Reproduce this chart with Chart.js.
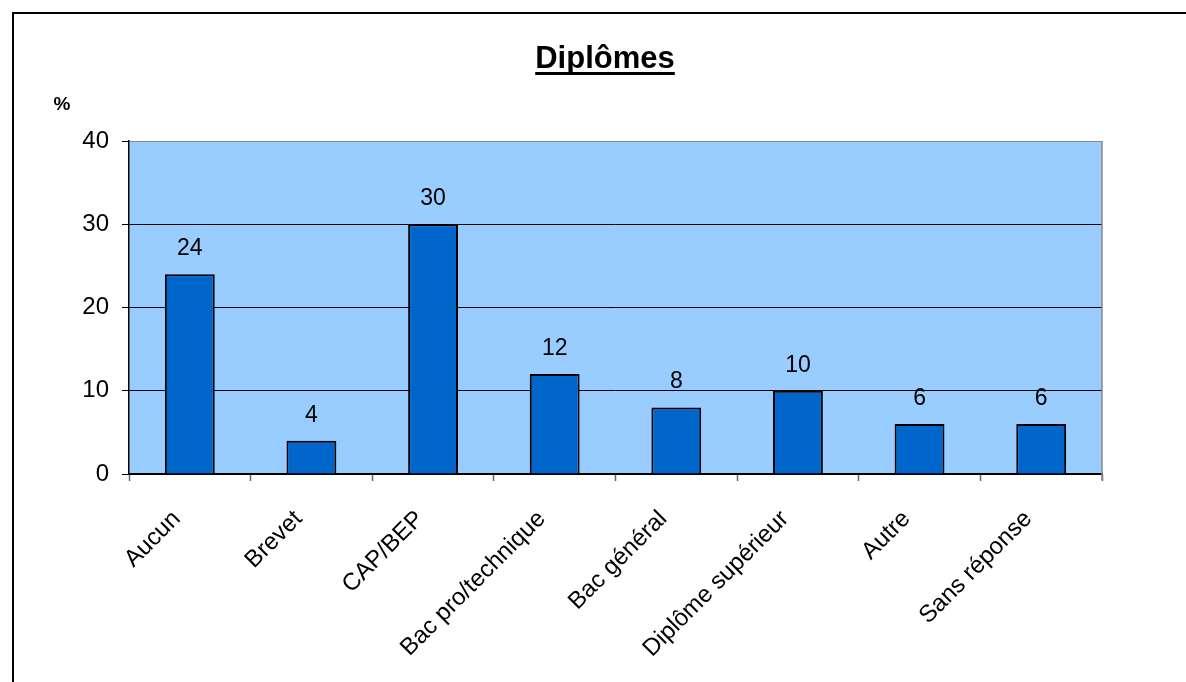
<!DOCTYPE html>
<html>
<head>
<meta charset="utf-8">
<script src="https://cdn.jsdelivr.net/npm/chart.js@4"></script>
<style>
  body { margin: 0; background: #fff; overflow: hidden; }
  #frame { position: absolute; left: 12px; top: 12px; width: 1200px; height: 700px; border: 2px solid #000; }
  #c { position: absolute; left: 0; top: 0; }
</style>
</head>
<body>
<div id="frame"></div>
<canvas id="c" width="1186" height="682"></canvas>
<script>
// Catégories et pourcentages
const categories = ["Aucun", "Brevet", "CAP/BEP", "Bac pro/technique", "Bac général", "Diplôme supérieur", "Autre", "Sans réponse"];
const percents = [24, 4, 30, 12, 8, 10, 6, 6];
const yTicks = [0, 10, 20, 30, 40];

const FONT = '"Liberation Sans", Arial, sans-serif';

// fond bleu de la zone de tracé + bordures
const plotBg = {
    id: 'plotBg',
    beforeDraw(chart) {
        const { ctx, chartArea: a } = chart;
        ctx.save();
        ctx.fillStyle = '#99CCFF';
        ctx.fillRect(a.left, a.top, a.right - a.left, a.bottom - a.top);
        ctx.restore();
    },
    afterDraw(chart) {
        const { ctx, chartArea: a } = chart;
        ctx.save();
        ctx.strokeStyle = '#888';
        ctx.lineWidth = 1.5;
        ctx.beginPath();
        ctx.moveTo(a.right, a.top);
        ctx.lineTo(a.right, a.bottom + 6);
        ctx.stroke();

        // titre souligné
        ctx.fillStyle = '#000';
        ctx.font = 'bold 31px ' + FONT;
        ctx.textAlign = 'center';
        ctx.textBaseline = 'alphabetic';
        const tx = 605, ty = 68;
        ctx.fillText('Diplômes', tx, ty);
        const w = ctx.measureText('Diplômes').width;
        ctx.fillRect(tx - w / 2, ty + 4, w, 3);

        // unité
        ctx.font = 'bold 19px ' + FONT;
        ctx.fillText('%', 62, 110);
        ctx.restore();
    }
};

// valeurs au-dessus des barres
const barValues = {
    id: 'barValues',
    afterDatasetsDraw(chart) {
        const { ctx } = chart;
        const meta = chart.getDatasetMeta(0);
        ctx.save();
        ctx.fillStyle = '#000';
        ctx.font = '23px ' + FONT;
        ctx.textAlign = 'center';
        ctx.textBaseline = 'alphabetic';
        meta.data.forEach((bar, i) => {
            ctx.fillText(String(percents[i]), bar.x, bar.y - 19);
        });
        ctx.restore();
    }
};

new Chart(document.getElementById('c'), {
    type: 'bar',
    data: {
        labels: categories,
        datasets: [{
            data: percents,
            backgroundColor: '#0066CC',
            borderColor: '#000',
            borderWidth: 2,
            barPercentage: 0.41,
            categoryPercentage: 1.0
        }]
    },
    options: {
        responsive: false,
        animation: false,
        layout: { padding: { top: 141, right: 84, left: 0, bottom: 0 } },
        plugins: {
            legend: { display: false },
            tooltip: { enabled: false },
            title: { display: false }
        },
        scales: {
            x: {
                grid: { offset: true, drawOnChartArea: false, drawTicks: true, tickLength: 7, tickColor: '#666', tickWidth: 1.5 },
                border: { color: '#000', width: 1.5 },
                ticks: {
                    color: '#000',
                    font: { family: FONT, size: 24 },
                    minRotation: 45,
                    maxRotation: 45,
                    padding: 24,
                    labelOffset: -13,
                    autoSkip: false
                },
                afterFit: s => { s.height = 208; }
            },
            y: {
                min: 0,
                max: 40,
                afterBuildTicks: s => { s.ticks = yTicks.map(v => ({ value: v })); },
                grid: {
                    color: c => (c.tick && c.tick.value === 40 ? '#888' : '#000'),
                    lineWidth: 1,
                    tickLength: 7,
                    tickColor: '#000'
                },
                border: { color: '#000', width: 1.5 },
                ticks: {
                    color: '#000',
                    font: { family: FONT, size: 24 },
                    padding: 13
                },
                afterFit: s => { s.width = 129; }
            }
        }
    },
    plugins: [plotBg, barValues]
});
</script>
</body>
</html>
